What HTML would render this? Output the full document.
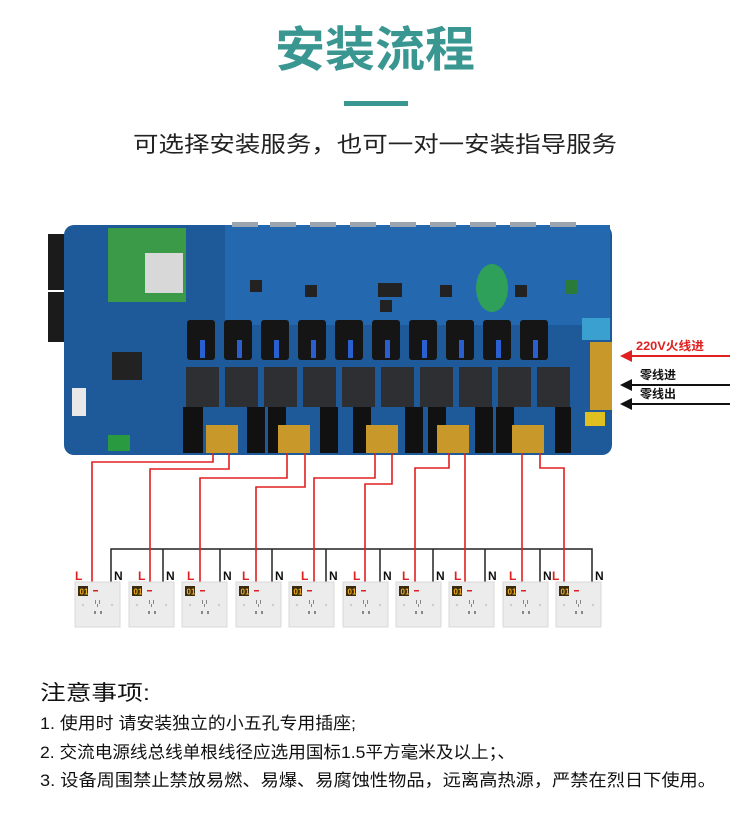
<!DOCTYPE html>
<html><head><meta charset="utf-8"><style>
html,body{margin:0;padding:0;background:#fff;}
svg{display:block;}
text{font-family:"Liberation Sans","Noto Sans CJK SC",sans-serif;}
</style></head><body>
<svg width="750" height="822" viewBox="0 0 750 822" xmlns="http://www.w3.org/2000/svg">
<rect width="750" height="822" fill="#fff"/>
<text x="375" y="66" text-anchor="middle" font-size="48" font-weight="bold" fill="#3a9690" textLength="200" lengthAdjust="spacingAndGlyphs">安装流程</text>
<rect x="344" y="101" width="64" height="5" fill="#3a9690"/>
<text x="375" y="152" text-anchor="middle" font-size="22" fill="#222" textLength="484" lengthAdjust="spacingAndGlyphs">可选择安装服务，也可一对一安装指导服务</text>

<!-- board -->
<rect x="48" y="234" width="52" height="56" fill="#1b1b1b"/>
<rect x="48" y="292" width="52" height="50" fill="#1b1b1b"/>
<rect x="64" y="225" width="548" height="230" rx="10" fill="#1e5a9a"/>
<rect x="225" y="225" width="385" height="100" fill="#2468b0"/>
<g fill="#9aa5b0">
<rect x="232" y="222" width="26" height="5"/><rect x="270" y="222" width="26" height="5"/><rect x="310" y="222" width="26" height="5"/><rect x="350" y="222" width="26" height="5"/><rect x="390" y="222" width="26" height="5"/><rect x="430" y="222" width="26" height="5"/><rect x="470" y="222" width="26" height="5"/><rect x="510" y="222" width="26" height="5"/><rect x="550" y="222" width="26" height="5"/>
</g>
<rect x="108" y="228" width="78" height="74" fill="#3a9a48"/>
<rect x="145" y="253" width="38" height="40" fill="#d8d8d8"/>
<rect x="112" y="352" width="30" height="28" fill="#222"/>
<rect x="378" y="283" width="24" height="14" fill="#222"/>
<ellipse cx="492" cy="288" rx="16" ry="24" fill="#2ea05a"/>
<rect x="565" y="280" width="12" height="14" fill="#2a7a3a"/>
<rect x="582" y="318" width="28" height="22" fill="#3aa0d0"/>
<g fill="#222">
<rect x="250" y="280" width="12" height="12"/><rect x="305" y="285" width="12" height="12"/><rect x="380" y="300" width="12" height="12"/><rect x="440" y="285" width="12" height="12"/><rect x="515" y="285" width="12" height="12"/>
</g>
<!-- fuse row -->
<g fill="#151515">
<rect x="187" y="320" width="28" height="40" rx="3"/><rect x="224" y="320" width="28" height="40" rx="3"/><rect x="261" y="320" width="28" height="40" rx="3"/><rect x="298" y="320" width="28" height="40" rx="3"/><rect x="335" y="320" width="28" height="40" rx="3"/><rect x="372" y="320" width="28" height="40" rx="3"/><rect x="409" y="320" width="28" height="40" rx="3"/><rect x="446" y="320" width="28" height="40" rx="3"/><rect x="483" y="320" width="28" height="40" rx="3"/><rect x="520" y="320" width="28" height="40" rx="3"/>
</g>
<g fill="#2a5fd0">
<rect x="200" y="340" width="5" height="18"/><rect x="237" y="340" width="5" height="18"/><rect x="274" y="340" width="5" height="18"/><rect x="311" y="340" width="5" height="18"/><rect x="348" y="340" width="5" height="18"/><rect x="385" y="340" width="5" height="18"/><rect x="422" y="340" width="5" height="18"/><rect x="459" y="340" width="5" height="18"/><rect x="496" y="340" width="5" height="18"/><rect x="533" y="340" width="5" height="18"/>
</g>
<!-- relays -->
<g fill="#2d2f33">
<rect x="186" y="367" width="33" height="40"/><rect x="225" y="367" width="33" height="40"/><rect x="264" y="367" width="33" height="40"/><rect x="303" y="367" width="33" height="40"/><rect x="342" y="367" width="33" height="40"/><rect x="381" y="367" width="33" height="40"/><rect x="420" y="367" width="33" height="40"/><rect x="459" y="367" width="33" height="40"/><rect x="498" y="367" width="33" height="40"/><rect x="537" y="367" width="33" height="40"/>
</g>
<!-- bottom terminals -->
<g fill="#111">
<rect x="183" y="407" width="20" height="46"/><rect x="247" y="407" width="18" height="46"/><rect x="268" y="407" width="18" height="46"/><rect x="320" y="407" width="18" height="46"/><rect x="353" y="407" width="18" height="46"/><rect x="405" y="407" width="18" height="46"/><rect x="428" y="407" width="18" height="46"/><rect x="475" y="407" width="18" height="46"/><rect x="496" y="407" width="18" height="46"/><rect x="555" y="407" width="16" height="46"/>
</g>
<g fill="#c9982a">
<rect x="206" y="425" width="32" height="28"/><rect x="278" y="425" width="32" height="28"/><rect x="366" y="425" width="32" height="28"/><rect x="437" y="425" width="32" height="28"/><rect x="512" y="425" width="32" height="28"/>
</g>
<rect x="590" y="342" width="22" height="68" fill="#c9982a"/>
<rect x="585" y="412" width="20" height="14" fill="#e0c020"/>
<rect x="108" y="435" width="22" height="16" fill="#2a9a40"/>
<rect x="72" y="388" width="14" height="28" fill="#e8e8e8"/>

<!-- arrows -->
<text x="636" y="350" font-size="12" font-weight="bold" fill="#e02020" textLength="68" lengthAdjust="spacingAndGlyphs">220V火线进</text>
<line x1="730" y1="356" x2="628" y2="356" stroke="#e02020" stroke-width="2"/>
<polygon points="620,356 632,350 632,362" fill="#e02020"/>
<text x="640" y="379" font-size="12" font-weight="bold" fill="#111">零线进</text>
<line x1="730" y1="385" x2="628" y2="385" stroke="#111" stroke-width="2"/>
<polygon points="620,385 632,379 632,391" fill="#111"/>
<text x="640" y="398" font-size="12" font-weight="bold" fill="#111">零线出</text>
<line x1="730" y1="404" x2="628" y2="404" stroke="#111" stroke-width="2"/>
<polygon points="620,404 632,398 632,410" fill="#111"/>

<!-- N bus -->
<g stroke="#222" stroke-width="1.5" fill="none">
<polyline points="111,582 111,549 592,549 592,582"/>
<line x1="163" y1="549" x2="163" y2="582"/><line x1="220" y1="549" x2="220" y2="582"/><line x1="272" y1="549" x2="272" y2="582"/><line x1="326" y1="549" x2="326" y2="582"/><line x1="380" y1="549" x2="380" y2="582"/><line x1="433" y1="549" x2="433" y2="582"/><line x1="485" y1="549" x2="485" y2="582"/><line x1="540" y1="549" x2="540" y2="582"/>
</g>
<!-- L wires -->
<g stroke="#e02020" stroke-width="1.6" fill="none">
<polyline points="92,598 92,462 213,462 213,453"/>
<polyline points="150,598 150,469 229,469 229,453"/>
<polyline points="200,598 200,478 287,478 287,453"/>
<polyline points="256,598 256,487 305,487 305,453"/>
<polyline points="314,598 314,478 375,478 375,453"/>
<polyline points="365,598 365,484 392,484 392,453"/>
<polyline points="415,598 415,468 449,468 449,453"/>
<polyline points="465,598 465,453"/>
<polyline points="522,598 522,453"/>
<polyline points="564,598 564,468 540,468 540,453"/>
</g>
<g font-size="12" font-weight="bold">
<g fill="#e02020">
<text x="75" y="580">L</text><text x="138" y="580">L</text><text x="187" y="580">L</text><text x="242" y="580">L</text><text x="301" y="580">L</text><text x="353" y="580">L</text><text x="402" y="580">L</text><text x="454" y="580">L</text><text x="509" y="580">L</text><text x="552" y="580">L</text>
</g>
<g fill="#111">
<text x="114" y="580">N</text><text x="166" y="580">N</text><text x="223" y="580">N</text><text x="275" y="580">N</text><text x="329" y="580">N</text><text x="383" y="580">N</text><text x="436" y="580">N</text><text x="488" y="580">N</text><text x="543" y="580">N</text><text x="595" y="580">N</text>
</g>
</g>
<!-- sockets -->
<defs>
<g id="sk">
<rect x="0" y="0" width="45" height="45" fill="#ececec" stroke="#d8d8d8"/>
<rect x="3" y="4" width="10" height="10" fill="#3a2a10"/>
<text x="4.5" y="12.5" font-size="8" fill="#f0b020" font-weight="bold">01</text>
<rect x="18" y="8" width="5" height="1.5" fill="#e02020"/>
<g fill="#888"><rect x="20" y="18" width="1" height="4"/><rect x="24" y="18" width="1" height="4"/><rect x="22" y="22" width="1" height="3"/><rect x="19" y="29" width="2" height="3"/><rect x="25" y="29" width="2" height="3"/></g>
<circle cx="8" cy="23" r="1.2" fill="#ccc"/><circle cx="37" cy="23" r="1.2" fill="#ccc"/>
</g>
</defs>
<use href="#sk" x="75" y="582"/><use href="#sk" x="129" y="582"/><use href="#sk" x="182" y="582"/><use href="#sk" x="236" y="582"/><use href="#sk" x="289" y="582"/><use href="#sk" x="343" y="582"/><use href="#sk" x="396" y="582"/><use href="#sk" x="449" y="582"/><use href="#sk" x="503" y="582"/><use href="#sk" x="556" y="582"/>

<!-- notes -->
<text x="40" y="700" font-size="21" fill="#111" textLength="110" lengthAdjust="spacingAndGlyphs">注意事项:</text>
<text x="40" y="729" font-size="17" fill="#111" textLength="316" lengthAdjust="spacingAndGlyphs">1. 使用时 请安装独立的小五孔专用插座;</text>
<text x="40" y="758" font-size="17" fill="#111" textLength="475" lengthAdjust="spacingAndGlyphs">2. 交流电源线总线单根线径应选用国标1.5平方毫米及以上；、</text>
<text x="40" y="786" font-size="17" fill="#111" textLength="676" lengthAdjust="spacingAndGlyphs">3. 设备周围禁止禁放易燃、易爆、易腐蚀性物品，远离高热源，严禁在烈日下使用。</text>
</svg>
</body></html>
